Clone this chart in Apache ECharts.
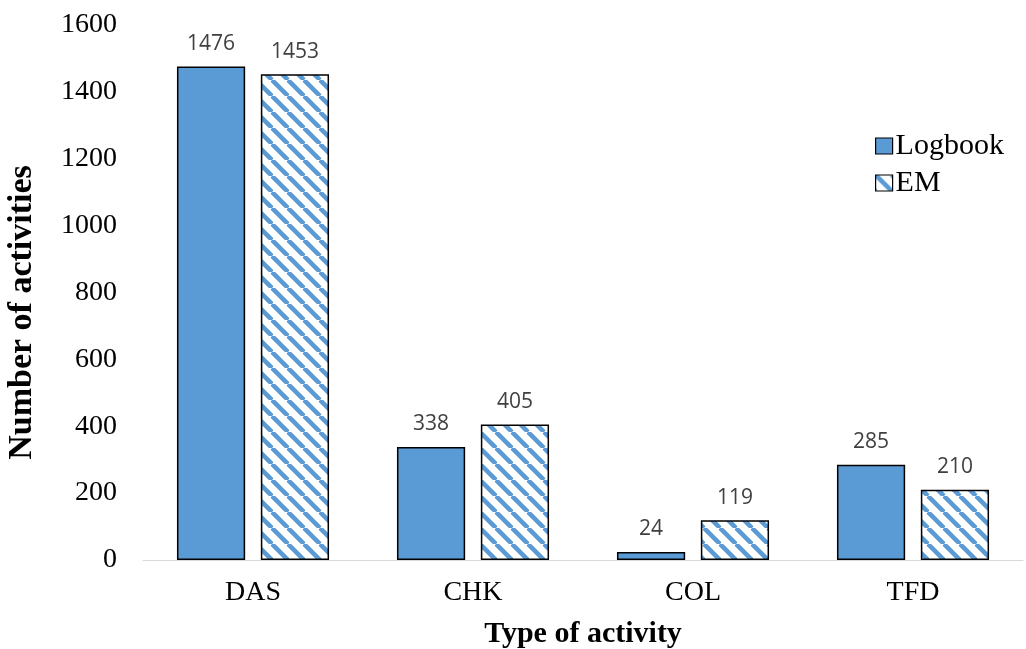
<!DOCTYPE html>
<html><head><meta charset="utf-8">
<script src="https://cdn.jsdelivr.net/npm/echarts@6/dist/echarts.min.js"></script>
<style>html,body{margin:0;padding:0;background:#fff}#c{width:1026px;height:649px}</style>
</head><body><div id="c"></div>
<script>
const categories = ['DAS', 'CHK', 'COL', 'TFD'];
const logbook = [1476, 338, 24, 285];
const em = [1453, 405, 119, 210];
const yTicks = [0, 200, 400, 600, 800, 1000, 1200, 1400, 1600];

function hatch() {
  const s = 16;
  const c = document.createElement('canvas');
  c.width = s; c.height = s;
  const g = c.getContext('2d');
  g.fillStyle = '#fff'; g.fillRect(0, 0, s, s);
  g.strokeStyle = '#5B9BD5'; g.lineWidth = 4.5;
  g.beginPath();
  for (let k = -1; k <= 1; k++) {
    g.moveTo(k * s, 0); g.lineTo(k * s + s, s);
  }
  g.stroke();
  return c;
}
const pat = hatch();
const serif = '"Liberation Serif", "Times New Roman", serif';
const labelFont = '"Open Sans", "Noto Sans", sans-serif';
const chart = echarts.init(document.getElementById('c'));
chart.setOption({
  animation: false,
  grid: { left: 143, right: 3, top: 25, bottom: 89, outerBoundsMode: 'none', containLabel: false },
  legend: {
    orient: 'vertical', left: 870, top: 126, itemGap: 7,
    itemWidth: 17, itemHeight: 16,
    textStyle: { fontFamily: serif, fontSize: 30, color: '#000', padding: [0, 0, 0, -2] },
    data: [
      { name: 'Logbook', icon: 'rect', itemStyle: { color: '#5B9BD5', borderColor: '#000', borderWidth: 1.2 } },
      { name: 'EM', icon: 'rect', itemStyle: { color: { image: pat, repeat: 'repeat' }, borderColor: '#000', borderWidth: 1.2 } }
    ]
  },
  xAxis: {
    type: 'category', data: categories,
    name: 'Type of activity', nameLocation: 'middle', nameGap: 59,
    nameTextStyle: { fontFamily: serif, fontSize: 30, fontWeight: 'bold', color: '#000' },
    axisLine: { lineStyle: { color: '#d9d9d9' } },
    axisTick: { show: false },
    axisLabel: { fontFamily: serif, fontSize: 28, color: '#000', margin: 19 }
  },
  yAxis: {
    type: 'value', min: 0, max: 1600, interval: 200,
    name: 'Number of activities', nameLocation: 'middle', nameGap: 104,
    nameTextStyle: { fontFamily: serif, fontSize: 34, fontWeight: 'bold', color: '#000', padding: [0, 40, 0, 0] },
    axisLine: { show: false }, axisTick: { show: false }, splitLine: { show: false },
    axisLabel: { fontFamily: serif, fontSize: 28, color: '#000', margin: 26,
      formatter: v => yTicks.includes(v) ? String(v) : '' }
  },
  series: [
    { name: 'Logbook', type: 'bar', data: logbook, barWidth: '31%', barGap: '23%',
      itemStyle: { color: '#5B9BD5', borderColor: '#000', borderWidth: 1.5 },
      label: { show: true, position: 'top', distance: 12, fontFamily: labelFont, fontSize: 21, color: '#404040' } },
    { name: 'EM', type: 'bar', data: em, barWidth: '31%',
      itemStyle: { color: { image: pat, repeat: 'repeat' }, borderColor: '#000', borderWidth: 1.5 },
      label: { show: true, position: 'top', distance: 12, fontFamily: labelFont, fontSize: 21, color: '#404040' } }
  ]
});
</script></body></html>
